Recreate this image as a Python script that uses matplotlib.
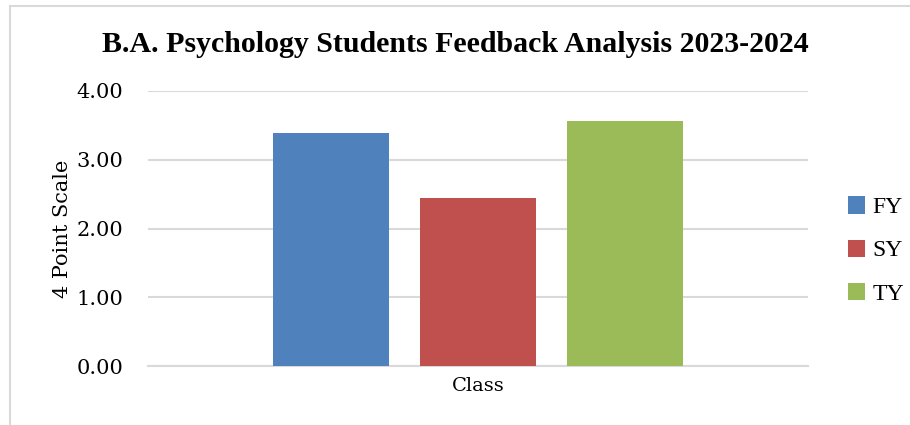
import matplotlib as mpl
mpl.use('Agg')
import matplotlib.pyplot as plt
from matplotlib.patches import Rectangle

classes = ['FY', 'SY', 'TY']
scores = [3.39, 2.45, 3.57]
colors = ['#4f81bd', '#c0504d', '#9bbb59']
yticks = [0, 1, 2, 3, 4]
ytick_labels = ['0.00', '1.00', '2.00', '3.00', '4.00']
title = 'B.A. Psychology Students Feedback Analysis 2023-2024'

fig = plt.figure(figsize=(9.1, 4.25), dpi=100)
ax = fig.add_axes([148/910, 59/425, 660/910, 275/425])

# outer chart frame (cut off at right and bottom like the screenshot)
fig.patches.append(Rectangle((10/910, -0.1), 1.2, (419/425) + 0.1,
                             transform=fig.transFigure, fill=False,
                             edgecolor='#d9d9d9', linewidth=1.5))

xs = list(range(len(classes)))
for x, v, c, lab in zip(xs, scores, colors, classes):
    ax.bar(x, v, width=0.79, color=c, label=lab, zorder=3)

ax.set_xlim(-1.245, 3.245)
ax.set_ylim(0, 4)
ax.set_yticks(yticks)
ax.set_yticklabels(ytick_labels, family='DejaVu Serif', fontsize=15)
ax.set_xticks([1])
ax.set_xticklabels(['Class'], family='DejaVu Serif', fontsize=14)
ax.tick_params(length=0, pad=18)
ax.tick_params(axis='x', pad=8)
ax.yaxis.grid(True, color='#d9d9d9', linewidth=1.5, zorder=0)
for s in ['top', 'right', 'left']:
    ax.spines[s].set_visible(False)
ax.spines['bottom'].set_color('#d9d9d9')
ax.spines['bottom'].set_linewidth(1.5)

ax.set_ylabel('4 Point Scale', family='DejaVu Serif', fontsize=15, labelpad=-8)
ax.yaxis.set_label_coords(-76/660, 0.5)
fig.text(455/910, 1 - 45/425, title, ha='center', va='center',
         family='Liberation Serif', fontweight='bold', fontsize=21.5)

leg = ax.legend(loc='center left', bbox_to_anchor=(1.028, 0.42), frameon=False,
                prop={'family': 'Liberation Serif', 'size': 17},
                handlelength=0.75, handleheight=0.75, handletextpad=0.3,
                labelspacing=0.9)

fig.savefig('out.png', dpi=100)
